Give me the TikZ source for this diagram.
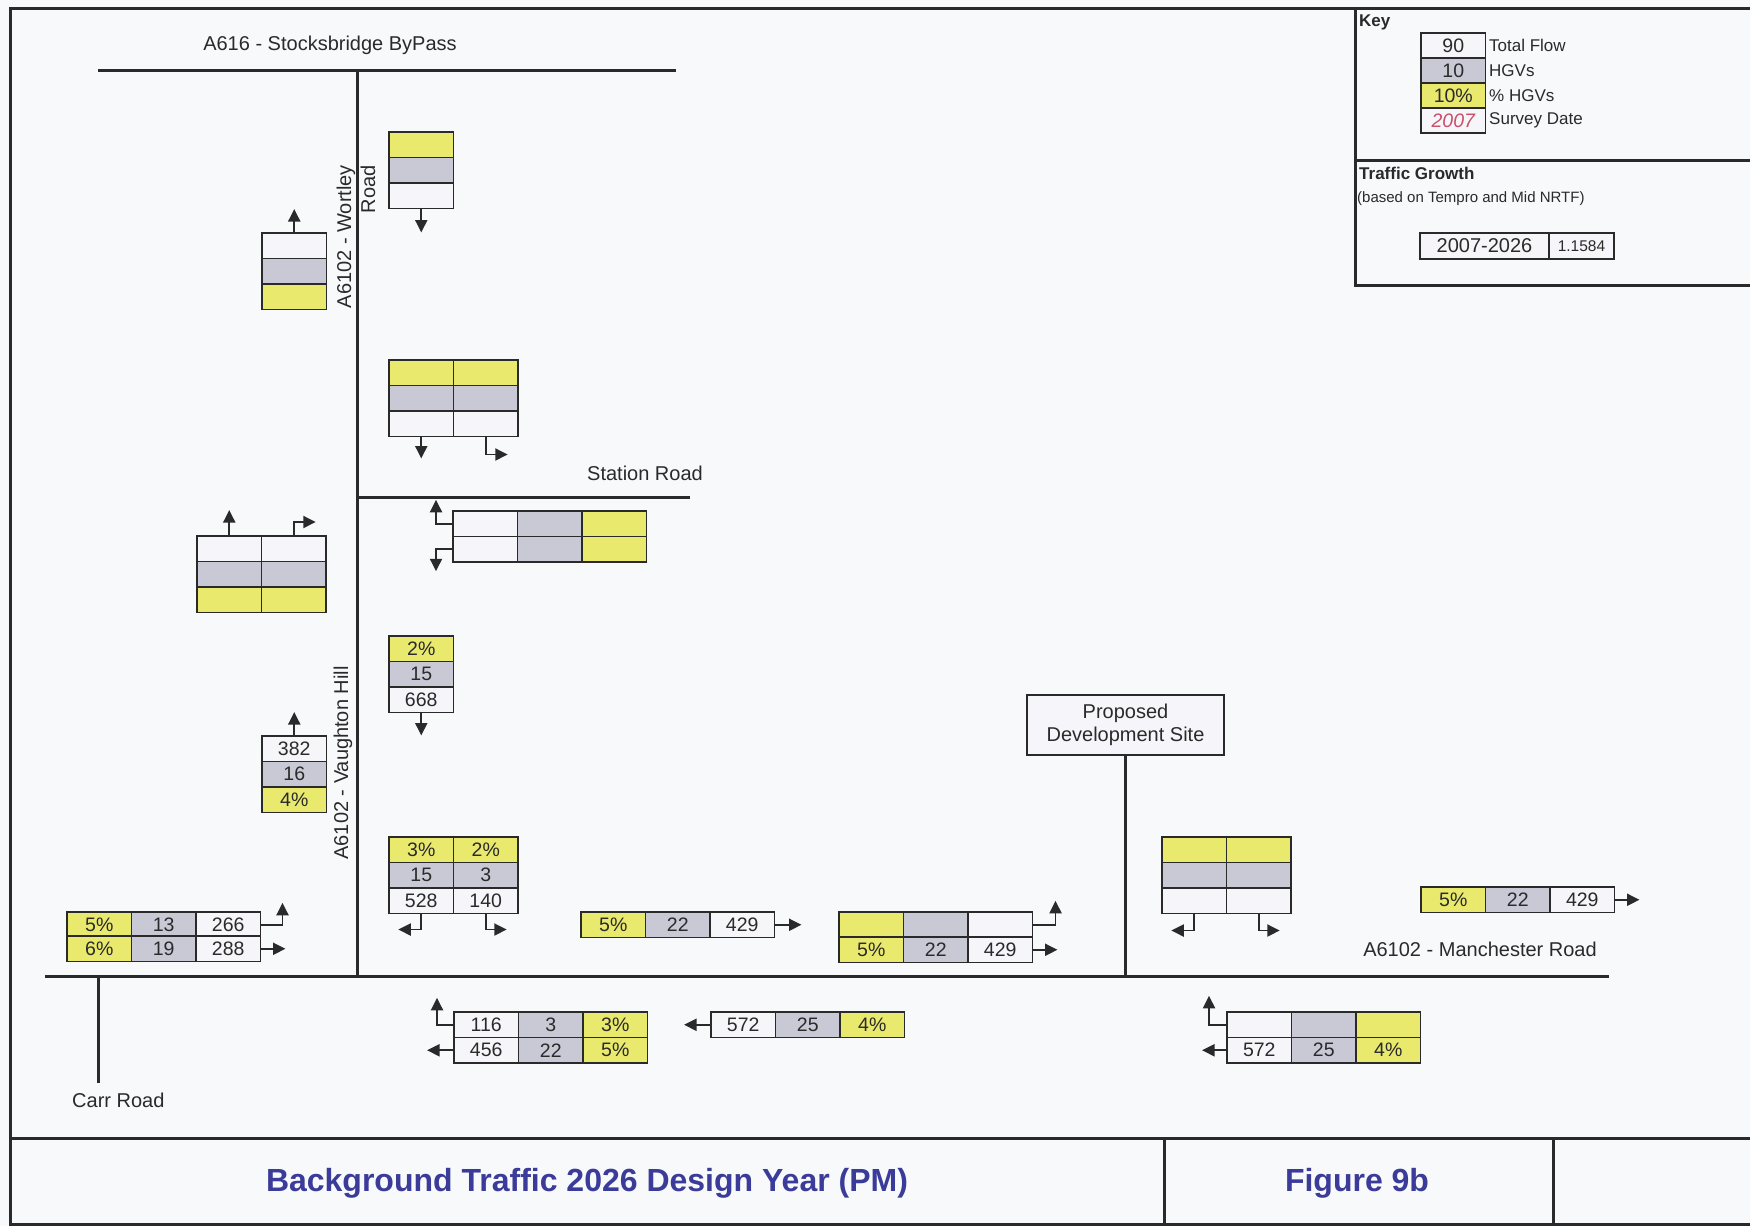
\documentclass[tikz,border=0pt]{standalone}
\usepackage{fontspec}
\setmainfont{Liberation Sans}
\usetikzlibrary{arrows.meta}
\definecolor{cy}{HTML}{E9E96E}
\definecolor{cg}{HTML}{C9C9D6}
\definecolor{cw}{HTML}{F6F6FA}
\definecolor{bg}{HTML}{F8F9FA}
\definecolor{ink}{HTML}{2A2A2A}
\definecolor{ttl}{HTML}{3B3B9A}
\definecolor{survey}{HTML}{C8506A}
\newcommand\cel[5]{\node[celst,fill=#4,anchor=north west] (#1) at (#2,#3) {#5};}
\begin{document}
\begin{tikzpicture}[x=1pt,y=-1pt,
  celst/.style={draw=ink,line width=1.8pt,minimum width=64.5pt,minimum height=25.5pt,inner sep=0pt,outer sep=0pt,text=ink,font=\fontsize{19.5}{22}\selectfont},
  road/.style={draw=ink,line width=3pt},
  frame/.style={draw=ink,line width=3pt},
  arr/.style={draw=ink,line width=1.9pt,-{Triangle[length=12.5pt,width=12pt]}},
  lbl/.style={text=ink,font=\fontsize{20}{24}\selectfont,inner sep=0pt},
  keyl/.style={text=ink,font=\fontsize{17}{20}\selectfont,inner sep=0pt,anchor=west}]
\useasboundingbox (0,0) rectangle (1750,1226);
\fill[bg] (0,0) rectangle (1750,1226);
% frame
\draw[frame] (1750,8) -- (10,8) -- (10,1224) -- (1750,1224);
\draw[frame] (10,1138) -- (1750,1138);
\draw[frame] (1164,1138) -- (1164,1224);
\draw[frame] (1553,1138) -- (1553,1224);
\draw[frame] (1355,8) -- (1355,285) -- (1750,285);
\draw[frame] (1355,160) -- (1750,160);
% key
\node[text=ink,font=\bfseries\fontsize{17}{20}\selectfont,inner sep=0pt,anchor=west] (keyt) at (1359,22) {Key};
\node[celst,fill=cw,anchor=north west,minimum height=25pt] (k1) at (1421,33) {90};
\node[celst,fill=cg,anchor=north west,minimum height=25pt] (k2) at (1421,58) {10};
\node[celst,fill=cy,anchor=north west,minimum height=25pt] (k3) at (1421,83) {10\%};
\node[celst,fill=cw,anchor=north west,minimum height=25pt,text=survey,font=\itshape\fontsize{19.5}{22}\selectfont] (k4) at (1421,108) {2007};
\node[keyl] (kl1) at (1489,45.5) {Total Flow};
\node[keyl] (kl2) at (1489,70.5) {HGVs};
\node[keyl] (kl3) at (1489,95.5) {\% HGVs};
\node[keyl] (kl4) at (1489,120.5) {Survey Date};
\node[text=ink,font=\bfseries\fontsize{17}{20}\selectfont,inner sep=0pt,anchor=west] (tg) at (1359,173) {Traffic Growth};
\node[text=ink,font=\fontsize{15}{18}\selectfont,inner sep=0pt,anchor=west] (tgs) at (1357,199) {(based on Tempro and Mid NRTF)};
\node[celst,fill=cw,anchor=north west,minimum width=129pt,minimum height=26pt,font=\fontsize{20}{22}\selectfont] (g1) at (1420,233) {2007-2026};
\node[celst,fill=cw,anchor=north west,minimum width=65pt,minimum height=26pt,font=\fontsize{15.5}{18}\selectfont] (g2) at (1549,233) {1.1584};
% roads
\coordinate (bpW) at (98,70); \coordinate (bpE) at (676,70);
\coordinate (vtN) at (357,70); \coordinate (vtS) at (357,976);
\coordinate (srW) at (357,497); \coordinate (srE) at (690,497);
\coordinate (mrW) at (45,976); \coordinate (mrE) at (1609,976);
\coordinate (crN) at (98,976); \coordinate (crS) at (98,1083);
\draw[road] (bpW) -- (bpE);
\draw[road] (vtN) -- (vtS);
\draw[road] (srW) -- (srE);
\draw[road] (mrW) -- (mrE);
\draw[road] (crN) -- (crS);
\node[lbl] (bpl) at (330,45) {A616 - Stocksbridge ByPass};
\node[lbl,rotate=90,anchor=east,align=right] (wrl) at (356,165) {A6102 - Wortley\\Road};
\node[lbl,rotate=90] (vhl) at (343,763) {A6102 - Vaughton Hill};
\node[lbl] (srl) at (645,473) {Station Road};
\node[lbl] (mrl) at (1480,949) {A6102 - Manchester Road};
\node[lbl,anchor=west] (crl) at (72,1100) {Carr Road};
\node[draw=ink,line width=1.5pt,fill=cw,minimum width=197pt,minimum height=60pt,align=center,text=ink,font=\fontsize{20}{23}\selectfont,inner sep=0pt] (dev) at (1125.5,725) {Proposed\\Development Site};
\draw[road,line width=2.5pt] (dev.south) -- (dev.south |- mrW);
% Box A
\cel{aY}{389}{132}{cy}{} \cel{aG}{389}{157.5}{cg}{} \cel{aW}{389}{183}{cw}{}
\draw[arr] (aW.south) -- ++(0,24);
% Box B
\cel{bW}{262}{233}{cw}{} \cel{bG}{262}{258.5}{cg}{} \cel{bY}{262}{284}{cy}{}
\draw[arr] (bW.north) -- ++(0,-24);
% Box C
\cel{cY1}{389}{360}{cy}{} \cel{cG1}{389}{385.5}{cg}{} \cel{cW1}{389}{411}{cw}{}
\cel{cY2}{453.5}{360}{cy}{} \cel{cG2}{453.5}{385.5}{cg}{} \cel{cW2}{453.5}{411}{cw}{}
\draw[arr] (cW1.south) -- ++(0,22);
\draw[arr] (cW2.south) -- ++(0,18) -- ++(22,0);
% Box D
\cel{dW1}{453}{511}{cw}{} \cel{dG1}{517.5}{511}{cg}{} \cel{dY1}{582}{511}{cy}{}
\cel{dW2}{453}{536.5}{cw}{} \cel{dG2}{517.5}{536.5}{cg}{} \cel{dY2}{582}{536.5}{cy}{}
\draw[arr] (dW1.west) -- ++(-17,0) -- ++(0,-24);
\draw[arr] (dW2.west) -- ++(-17,0) -- ++(0,22);
% Box E
\cel{eW1}{197}{536}{cw}{} \cel{eG1}{197}{561.5}{cg}{} \cel{eY1}{197}{587}{cy}{}
\cel{eW2}{261.5}{536}{cw}{} \cel{eG2}{261.5}{561.5}{cg}{} \cel{eY2}{261.5}{587}{cy}{}
\draw[arr] (eW1.north) -- ++(0,-26);
\draw[arr] (eW2.north) -- ++(0,-14) -- ++(22,0);
% Box F
\cel{fY}{389}{636}{cy}{2\%} \cel{fG}{389}{661.5}{cg}{15} \cel{fW}{389}{687}{cw}{668}
\draw[arr] (fW.south) -- ++(0,23);
% Box G
\cel{gW}{262}{736}{cw}{382} \cel{gG}{262}{761.5}{cg}{16} \cel{gY}{262}{787}{cy}{4\%}
\draw[arr] (gW.north) -- ++(0,-24);
% Box H
\cel{hY1}{389}{837}{cy}{3\%} \cel{hG1}{389}{862.5}{cg}{15} \cel{hW1}{389}{888}{cw}{528}
\cel{hY2}{453.5}{837}{cy}{2\%} \cel{hG2}{453.5}{862.5}{cg}{3} \cel{hW2}{453.5}{888}{cw}{140}
\draw[arr] (hW1.south) -- ++(0,16) -- ++(-23,0);
\draw[arr] (hW2.south) -- ++(0,16) -- ++(21,0);
% Box I
\cel{iY1}{67}{912}{cy}{5\%} \cel{iG1}{131.5}{912}{cg}{13} \cel{iW1}{196}{912}{cw}{266}
\cel{iY2}{67}{936}{cy}{6\%} \cel{iG2}{131.5}{936}{cg}{19} \cel{iW2}{196}{936}{cw}{288}
\draw[arr] (iW1.east) -- ++(22,0) -- ++(0,-22);
\draw[arr] (iW2.east) -- ++(25,0);
% Box J
\cel{jY}{581}{912}{cy}{5\%} \cel{jG}{645.5}{912}{cg}{22} \cel{jW}{710}{912}{cw}{429}
\draw[arr] (jW.east) -- ++(27,0);
% Box K
\cel{kY1}{839}{912}{cy}{} \cel{kG1}{903.5}{912}{cg}{} \cel{kW1}{968}{912}{cw}{}
\cel{kY2}{839}{937}{cy}{5\%} \cel{kG2}{903.5}{937}{cg}{22} \cel{kW2}{968}{937}{cw}{429}
\draw[arr] (kW1.east) -- ++(23,0) -- ++(0,-24);
\draw[arr] (kW2.east) -- ++(25,0);
% Box L
\cel{lY1}{1162}{837}{cy}{} \cel{lG1}{1162}{862.5}{cg}{} \cel{lW1}{1162}{888}{cw}{}
\cel{lY2}{1226.5}{837}{cy}{} \cel{lG2}{1226.5}{862.5}{cg}{} \cel{lW2}{1226.5}{888}{cw}{}
\draw[arr] (lW1.south) -- ++(0,17) -- ++(-23,0);
\draw[arr] (lW2.south) -- ++(0,17) -- ++(21,0);
% Box M
\cel{mY}{1421}{887}{cy}{5\%} \cel{mG}{1485.5}{887}{cg}{22} \cel{mW}{1550}{887}{cw}{429}
\draw[arr] (mW.east) -- ++(25,0);
% Box N
\cel{nW1}{454}{1012}{cw}{116} \cel{nG1}{518.5}{1012}{cg}{3} \cel{nY1}{583}{1012}{cy}{3\%}
\cel{nW2}{454}{1037.5}{cw}{456} \cel{nG2}{518.5}{1037.5}{cg}{22} \cel{nY2}{583}{1037.5}{cy}{5\%}
\draw[arr] (nW1.west) -- ++(-17,0) -- ++(0,-27);
\draw[arr] (nW2.west) -- ++(-27,0);
% Box O
\cel{oW}{711}{1012}{cw}{572} \cel{oG}{775.5}{1012}{cg}{25} \cel{oY}{840}{1012}{cy}{4\%}
\draw[arr] (oW.west) -- ++(-27,0);
% Box P
\cel{pW1}{1227}{1012}{cw}{} \cel{pG1}{1291.5}{1012}{cg}{} \cel{pY1}{1356}{1012}{cy}{}
\cel{pW2}{1227}{1037.5}{cw}{572} \cel{pG2}{1291.5}{1037.5}{cg}{25} \cel{pY2}{1356}{1037.5}{cy}{4\%}
\draw[arr] (pW1.west) -- ++(-18,0) -- ++(0,-29);
\draw[arr] (pW2.west) -- ++(-25,0);
% footer
\node[text=ttl,font=\bfseries\fontsize{32}{36}\selectfont,inner sep=0pt] (ft) at (587,1183) {Background Traffic 2026 Design Year (PM)};
\node[text=ttl,font=\bfseries\fontsize{32}{36}\selectfont,inner sep=0pt] (fg) at (1357,1183) {Figure 9b};
\end{tikzpicture}
\end{document}
